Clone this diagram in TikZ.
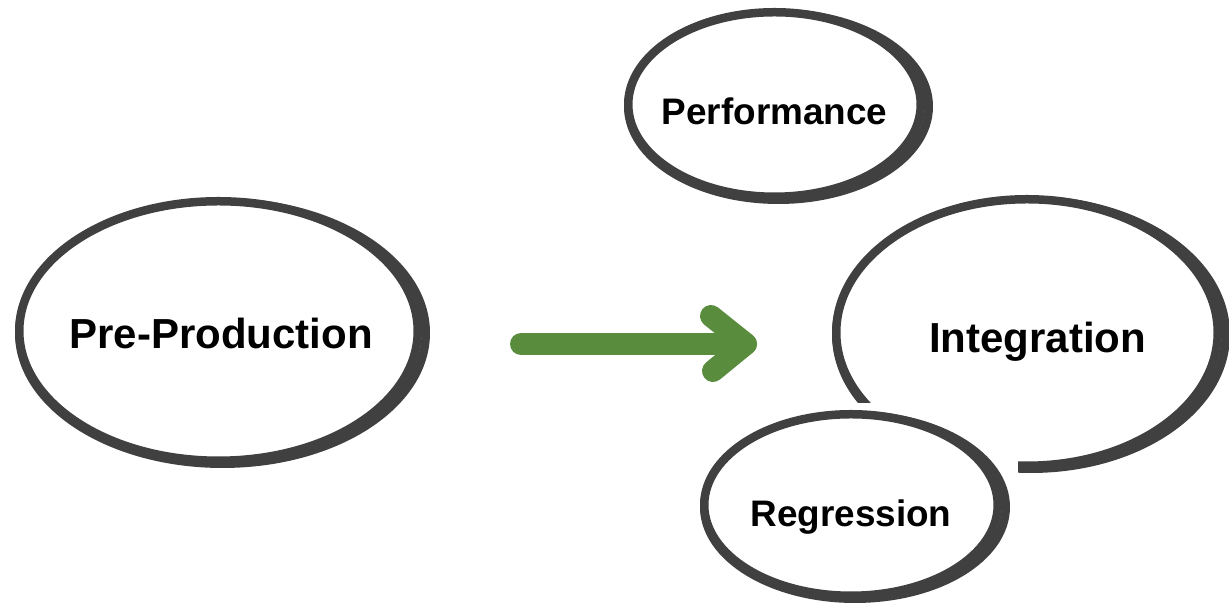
\documentclass[tikz,border=0pt]{standalone}
\usepackage{fontspec}
\setmainfont{Liberation Sans}
\usepackage{tikz}
\usetikzlibrary{shapes}
\usetikzlibrary{calc}
\definecolor{ringgray}{RGB}{64,64,64}
\definecolor{arrowgreen}{RGB}{90,140,62}
\tikzset{myring/.style={draw=ringgray, line width=0.17cm, ellipse, inner sep=0pt, fill=white}}
\tikzset{myringBack/.style={draw=ringgray, line width=0.17cm}}
\tikzset{myringBig/.style={font=\fontsize{23.9}{28}\selectfont\bfseries, text depth=0pt, inner sep=0pt}}
\tikzset{myringSml/.style={font=\fontsize{21}{25}\selectfont\bfseries, text depth=0pt, inner sep=0pt}}
\tikzset{myarrow/.style={draw=arrowgreen, line width=0.44cm, line cap=round, line join=round}}

\begin{document}
\begin{tikzpicture}

\useasboundingbox (0,0) rectangle (24.58,12.28);

% second stroke, thickens the right side of each ring
\draw[myringBack] (4.45, 5.62) ellipse [x radius=4.065cm, y radius=2.615cm];
\node[myring, minimum width=7.97cm, minimum height=5.19cm, label={[myringBig, xshift=0.05cm, yshift=-0.04cm]center:Pre-Production}] (preprod) at (4.37, 5.66) {};

\draw[myringBack] (15.57, 10.15) ellipse [x radius=3.005cm, y radius=1.865cm];
\node[myring, minimum width=5.85cm, minimum height=3.69cm, label={[myringSml, yshift=-0.14cm]center:Performance}] (perf) at (15.49, 10.19) {};

\draw[myringBack] (20.62, 5.59) ellipse [x radius=3.895cm, y radius=2.685cm];
\node[myring, minimum width=7.63cm, minimum height=5.33cm, label={[myringBig, xshift=0.21cm, yshift=-0.09cm]center:Integration}] (integ) at (20.54, 5.63) {};

% white backing under the regression bubble
\fill[white] (13.8, 0) rectangle (20.36, 4.22);
\draw[myringBack] (17.10, 2.14) ellipse [x radius=3.015cm, y radius=1.835cm];
\node[myring, minimum width=5.87cm, minimum height=3.63cm, label={[myringSml, yshift=-0.17cm]center:Regression}] (regr) at (17.02, 2.18) {};

\coordinate (arrS) at (10.42, 5.40);
\coordinate (arrE) at (14.92, 5.40);
\draw[myarrow] (arrS) -- (arrE);
\draw[myarrow] ($(arrE)+(-0.70,0.56)$) -- (arrE) -- ($(arrE)+(-0.66,-0.54)$);

\end{tikzpicture}
\end{document}
